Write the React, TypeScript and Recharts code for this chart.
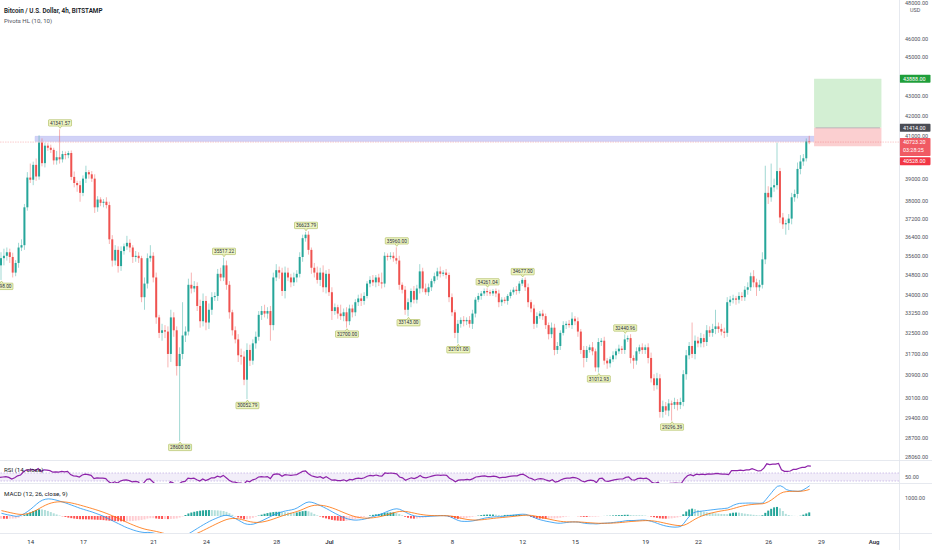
import React from "react";
import {
  ComposedChart,
  Bar,
  Line,
  XAxis,
  YAxis,
  ReferenceLine,
  ReferenceArea,
  ReferenceDot,
  Cell,
} from "recharts";

const FONT = "Roboto, 'Liberation Sans', sans-serif";
const SLOTS = 307; // 4h slots across the plot, incl. empty future space

// ---- candles (4h, BITSTAMP BTCUSD), first candle Jun 12 08:00 ----
const firstOpen = 35200;
const closes = [
  35500, 35600, 35750, 35550, 34900, 35300, 35950, 36050, 37700, 39050,
  38950, 39640, 39100, 40700, 39720, 40550, 40450, 40350, 39850, 40000,
  39900, 40150, 40100, 40200, 39080, 38800, 38700, 38350, 39000, 39300,
  39200, 39000, 37700, 38050, 37900, 37950, 37800, 36300, 35400, 35850,
  35170, 35800, 36000, 36150, 35950, 35550, 35600, 35500, 33900, 34450,
  35500, 35600, 34700, 33100, 32500, 32600, 32550, 31700, 33100, 32600,
  31250, 31700, 32400, 32550, 34400, 34250, 34350, 33550, 32950, 33750,
  32900, 33400, 33900, 33950, 34850, 34700, 35200, 34400, 33300, 32600,
  32250, 31650, 31600, 30750, 31850, 31450, 32100, 32350, 33200, 33350,
  33250, 33350, 32800, 34700, 35000, 34900, 34150, 34900, 34700, 34500,
  34700, 34850, 35550, 36350, 36500, 35850, 35100, 34900, 34600, 34900,
  34300, 34850, 34100, 33350, 33500, 33250, 33150, 33300, 32950, 33450,
  33300, 33700, 33850, 33750, 33950, 34450, 34600, 34500, 34700, 34500,
  34450, 35600, 35550, 35600, 35500, 35400, 34400, 34200, 33400, 33700,
  34150, 33800, 34250, 34950, 34250, 34100, 34300, 34550, 34750, 34950,
  34850, 34900, 34800, 33900, 33300, 32500, 32850, 33000, 32950, 33000,
  32850, 33250, 33800, 33950, 34050, 34150, 34100, 34050, 34150, 34050,
  33700, 33800, 33750, 33950, 34100, 34200, 34150, 34450, 34600, 34300,
  33700, 33450, 32850, 33150, 33250, 33150, 32800, 32450, 32700, 31850,
  32000, 32500, 32800, 32850, 32800, 33050, 32950, 32550, 31850, 31550,
  31850, 31950, 31800, 31200, 32150, 32200, 31450, 31350, 31500, 31650,
  31800, 31900, 31850, 32250, 32300, 31550, 31450, 31800, 31950, 31850,
  31950, 31550, 30800, 30550, 30800, 29600, 29800, 29650, 29900, 29850,
  29950, 29850, 29950, 30950, 31650, 32000, 31700, 32200, 32100, 32300,
  32150, 32600, 32500, 32650, 32750, 32650, 32550, 32500, 33700, 33800,
  33850, 33800, 33950, 33900, 34200, 34300, 34750, 34500, 34300, 34400,
  35450, 38350, 38150, 38600, 38700, 39350, 37250, 36950, 37000, 37200,
  38150, 38300, 39450, 39800, 39950, 40750, 40723.2,
];
// wick length above the body / below the body
const upperWick = [
  250, 300, 200, 150, 180, 120, 200, 250, 150, 250,
  650, 150, 300, 350, 200, 150, 120, 150, 100, 300,
  1342, 150, 120, 100, 120, 250, 100, 200, 150, 300,
  100, 150, 200, 150, 100, 120, 200, 150, 180, 200,
  150, 200, 120, 300, 150, 100, 200, 150, 100, 250,
  200, 450, 150, 200, 100, 250, 200, 200, 300, 200,
  150, 250, 1300, 200, 250, 500, 200, 150, 250, 300,
  200, 250, 200, 150, 200, 250, 317, 200, 150, 100,
  150, 200, 250, 200, 250, 200, 150, 200, 150, 200,
  250, 150, 200, 200, 250, 150, 200, 250, 200, 150,
  200, 150, 200, 150, 124, 150, 100, 200, 250, 200,
  300, 150, 200, 200, 150, 100, 350, 150, 200, 150,
  150, 120, 150, 200, 150, 100, 150, 200, 100, 150,
  400, 150, 100, 150, 150, 460, 200, 100, 150, 150,
  100, 200, 150, 300, 150, 200, 150, 100, 150, 150,
  200, 100, 150, 100, 150, 100, 150, 100, 150, 100,
  150, 150, 100, 120, 100, 100, 111, 100, 80, 100,
  150, 100, 100, 80, 100, 100, 150, 100, 77, 100,
  150, 100, 150, 150, 100, 150, 100, 100, 200, 150,
  150, 100, 150, 100, 150, 250, 100, 150, 100, 150,
  150, 100, 200, 100, 150, 100, 150, 100, 100, 150,
  100, 150, 100, 191, 100, 150, 100, 150, 100, 150,
  100, 150, 200, 150, 200, 150, 200, 150, 150, 100,
  150, 100, 150, 150, 200, 150, 900, 200, 150, 200,
  150, 200, 150, 200, 650, 150, 200, 150, 200, 150,
  150, 100, 150, 150, 150, 200, 150, 250, 150, 200,
  300, 1250, 300, 1100, 300, 1350, 150, 200, 150, 200,
  200, 200, 300, 300, 200, 150, 277,
];
const lowerWick = [
  602, 300, 200, 250, 200, 150, 200, 150, 200, 150,
  150, 250, 200, 150, 150, 200, 150, 150, 200, 200,
  200, 150, 200, 150, 150, 200, 300, 400, 150, 200,
  200, 150, 250, 200, 150, 200, 150, 200, 250, 200,
  270, 200, 150, 150, 200, 250, 200, 200, 200, 500,
  200, 150, 200, 250, 200, 300, 250, 500, 300, 250,
  350, 2650, 200, 250, 150, 200, 150, 200, 250, 200,
  300, 250, 200, 150, 200, 150, 150, 200, 250, 200,
  150, 250, 300, 200, 697, 200, 150, 200, 150, 200,
  150, 200, 600, 200, 150, 250, 200, 300, 150, 200,
  150, 200, 150, 200, 150, 200, 250, 200, 150, 250,
  200, 250, 150, 350, 150, 200, 150, 200, 250, 150,
  200, 150, 150, 200, 150, 100, 150, 150, 200, 150,
  200, 150, 150, 100, 150, 150, 200, 150, 200, 257,
  200, 150, 150, 200, 150, 100, 150, 150, 100, 150,
  150, 100, 150, 200, 150, 200, 399, 150, 200, 150,
  150, 200, 150, 100, 150, 100, 150, 100, 100, 150,
  200, 150, 100, 150, 100, 100, 150, 100, 100, 150,
  200, 150, 200, 150, 100, 150, 150, 200, 150, 200,
  150, 150, 100, 150, 100, 150, 150, 200, 150, 350,
  150, 100, 150, 150, 187, 150, 150, 200, 150, 100,
  150, 100, 150, 150, 100, 200, 300, 150, 100, 150,
  150, 200, 150, 200, 150, 200, 200, 150, 200, 554,
  150, 200, 150, 150, 200, 150, 150, 200, 150, 150,
  200, 150, 150, 150, 200, 150, 150, 200, 150, 150,
  150, 200, 150, 150, 150, 200, 150, 200, 350, 150,
  150, 200, 300, 200, 200, 200, 250, 200, 450, 300,
  250, 200, 200, 250, 200, 150, 100,
];

// ---- RSI (14, close) ----
const rsiValues = [
  49, 50, 51, 49, 45, 48, 53, 55, 63, 68,
  67, 69, 66, 71, 64, 68, 67, 66, 62, 63,
  62, 64, 63, 64, 56, 53, 52, 50, 55, 57,
  56, 54, 46, 48, 47, 47, 46, 38, 34, 38,
  35, 40, 42, 43, 41, 38, 39, 38, 30, 36,
  44, 45, 38, 31, 29, 31, 30, 27, 38, 35,
  30, 33, 38, 39, 47, 46, 47, 43, 40, 45,
  41, 44, 48, 48, 52, 50, 54, 48, 42, 38,
  37, 35, 35, 32, 40, 38, 43, 45, 50, 51,
  50, 51, 46, 56, 58, 57, 52, 56, 55, 54,
  55, 56, 60, 64, 65, 58, 53, 51, 49, 51,
  47, 51, 46, 42, 43, 41, 41, 43, 40, 44,
  43, 46, 47, 46, 48, 52, 54, 53, 55, 53,
  52, 60, 59, 60, 59, 58, 50, 48, 42, 45,
  48, 46, 49, 54, 49, 48, 50, 52, 54, 55,
  54, 55, 54, 47, 43, 38, 42, 43, 43, 44,
  43, 46, 50, 51, 52, 53, 51, 51, 52, 51,
  48, 49, 49, 51, 52, 53, 53, 56, 57, 53,
  48, 46, 42, 45, 46, 45, 42, 40, 43, 37,
  39, 43, 46, 47, 47, 49, 48, 45, 40, 38,
  41, 42, 41, 36, 46, 47, 40, 39, 41, 43,
  44, 45, 45, 49, 50, 43, 42, 46, 47, 46,
  47, 43, 36, 34, 37, 29, 32, 31, 34, 34,
  35, 34, 35, 46, 53, 56, 53, 57, 56, 57,
  56, 58, 57, 58, 59, 58, 57, 57, 56, 66,
  66, 66, 67, 66, 68, 68, 71, 68, 65, 66,
  72, 83, 81, 82, 82, 84, 68, 64, 64, 65,
  69, 69, 72, 74, 74, 78, 77,
];

// ---- MACD (12, 26, close, 9) ----
const macdLine = [
  150, 110, 70, 40, 10, -20, 0, 60, 150, 260,
  380, 520, 660, 790, 880, 930, 950, 940, 910, 870,
  820, 770, 720, 660, 600, 540, 480, 420, 370, 320,
  270, 220, 160, 100, 40, -30, -110, -190, -270, -350,
  -430, -510, -590, -660, -720, -780, -830, -870, -900, -920,
  -910, -920, -950, -1000, -1060, -1110, -1150, -1200, -1230, -1260,
  -1280, -1250, -1200, -1100, -980, -880, -780, -680, -580, -480,
  -390, -300, -220, -150, -80, -20, 30, 40, 0, -70,
  -150, -240, -330, -420, -460, -470, -450, -400, -330, -260,
  -180, -100, -20, 60, 130, 190, 240, 280, 310, 340,
  380, 450, 550, 650, 740, 780, 760, 710, 640, 570,
  490, 410, 320, 230, 140, 60, -20, -90, -150, -190,
  -220, -230, -220, -200, -170, -130, -80, -30, 20, 70,
  130, 200, 270, 330, 380, 400, 370, 300, 210, 130,
  60, 10, -20, -30, -30, -30, -20, -10, 0, 10,
  20, 20, 10, -30, -100, -180, -250, -290, -300, -300,
  -290, -270, -240, -200, -160, -120, -90, -70, -50, -40,
  -40, -30, -10, 10, 30, 50, 70, 90, 100, 90,
  40, -20, -90, -160, -210, -250, -290, -320, -350, -380,
  -400, -400, -380, -360, -340, -330, -330, -340, -370, -400,
  -420, -430, -430, -440, -430, -410, -400, -390, -380, -360,
  -340, -320, -300, -270, -250, -250, -250, -240, -230, -220,
  -230, -260, -300, -350, -410, -470, -520, -560, -590, -610,
  -620, -610, -580, -420, -200, 0, 150, 220, 250, 270,
  290, 310, 330, 350, 370, 390, 400, 420, 440, 520,
  600, 660, 700, 710, 715, 720, 720, 715, 710, 705,
  720, 900, 1100, 1300, 1500, 1650, 1680, 1600, 1470, 1420,
  1390, 1380, 1370, 1390, 1470, 1570, 1680,
];
const signalLine = [
  300, 262, 224, 187, 152, 118, 94, 87, 100, 132,
  182, 250, 332, 424, 515, 598, 668, 722, 760, 782,
  790, 786, 773, 750, 720, 684, 643, 598, 552, 506,
  459, 411, 361, 309, 255, 198, 136, 71, 3, -68,
  -140, -214, -289, -363, -434, -503, -568, -628, -682, -730,
  -766, -797, -828, -862, -902, -944, -985, -1028, -1068, -1106,
  -1141, -1163, -1170, -1156, -1121, -1073, -1014, -947, -874, -795,
  -714, -631, -549, -469, -391, -317, -248, -190, -152, -136,
  -139, -159, -193, -238, -282, -320, -346, -357, -352, -334,
  -303, -262, -214, -159, -101, -43, 14, 67, 116, 161,
  205, 254, 313, 380, 452, 518, 566, 595, 604, 597,
  576, 543, 498, 444, 383, 318, 250, 182, 116, 55,
  0, -46, -81, -105, -118, -120, -112, -96, -73, -44,
  -9, 33, 80, 130, 180, 224, 253, 262, 252, 228,
  194, 157, 122, 92, 68, 48, 34, 25, 20, 18,
  18, 18, 16, 7, -14, -47, -88, -128, -162, -190,
  -210, -222, -226, -221, -209, -191, -171, -151, -131, -113,
  -98, -84, -69, -53, -36, -19, -1, 17, 34, 45,
  44, 31, 7, -26, -63, -100, -138, -174, -209, -243,
  -274, -299, -315, -324, -327, -328, -328, -330, -338, -350,
  -364, -377, -388, -398, -404, -405, -404, -401, -397, -390,
  -380, -368, -354, -337, -320, -306, -295, -284, -273, -262,
  -256, -257, -266, -283, -308, -340, -376, -413, -448, -480,
  -508, -528, -538, -514, -451, -361, -259, -163, -80, -10,
  50, 102, 148, 188, 224, 257, 286, 313, 338, 374,
  419, 467, 514, 553, 585, 612, 634, 650, 662, 671,
  681, 725, 800, 900, 1020, 1146, 1253, 1322, 1352, 1366,
  1371, 1373, 1372, 1376, 1395, 1430, 1480,
];

// ---- axis labels ----
const dayTickIdx = [10, 28, 52, 70, 94, 112, 136, 154, 178, 196, 220, 238, 262, 280, 298];
const dayTickLabels = ["14", "17", "21", "24", "28", "Jul", "5", "8", "12", "15", "19", "22", "26", "29", "Aug"];
const priceTicks = [
  48000, 46000, 45000, 43000, 42000, 41000, 39000, 38000, 37200, 36400, 35600,
  34800, 34000, 33250, 32500, 31700, 30900, 30100, 29400, 28700, 28060,
];

// ---- Pivots HL (10, 10) ----
const pivotIdx = [0, 20, 61, 76, 84, 104, 118, 135, 139, 156, 166, 178, 204, 213, 229];
const pivotPrice = [
  34598, 41341.57, 28600, 35517.22, 30052.79, 36623.79, 32700, 35960, 33143, 32101,
  34261.04, 34677, 31012.93, 32440.96, 29296.39,
];
const pivotKind = ["L", "H", "L", "H", "L", "H", "L", "H", "L", "L", "H", "H", "L", "H", "L"];

// ---- drawings / price scale tags ----
const lastPrice = 40723.2;
const countdown = "03:28:25";
const entryPrice = 41414;
const targetPrice = 43888;
const stopPrice = 40528;
const zoneLow = 40760;
const zoneHigh = 41000;

const rows = Array.from({ length: SLOTS }, (_, i) => {
  const row: any = { idx: i };
  if (i < closes.length) {
    const o = i === 0 ? firstOpen : closes[i - 1];
    const c = closes[i];
    const h = Math.max(o, c) + upperWick[i];
    const l = Math.min(o, c) - lowerWick[i];
    const hist = macdLine[i] - signalLine[i];
    const prev = i > 0 ? macdLine[i - 1] - signalLine[i - 1] : hist;
    row.o = o;
    row.c = c;
    row.h = h;
    row.l = l;
    row.range = [l, h];
    row.rsi = rsiValues[i];
    row.macd = macdLine[i];
    row.signal = signalLine[i];
    row.hist = hist;
    row.histColor =
      hist >= 0 ? (hist >= prev ? "#26a69a" : "#b2dfdb") : hist < prev ? "#ff5252" : "#ffcdd2";
  }
  return row;
});

function Candle(props: any) {
  const { x, width, payload } = props;
  let { y, height } = props;
  if (!payload || payload.h == null || !isFinite(y) || !isFinite(height)) return <g />;
  if (height < 0) {
    y = y + height;
    height = -height;
  }
  const { o, h, l, c } = payload;
  const span = Math.log(h) - Math.log(l);
  const at = (p: number) => y + (span > 0 ? (height * (Math.log(h) - Math.log(p))) / span : 0);
  const color = c >= o ? "#26a69a" : "#ef5350";
  const top = at(Math.max(o, c));
  const bottom = at(Math.min(o, c));
  const cx = x + width / 2;
  return (
    <g>
      <line x1={cx} x2={cx} y1={y} y2={y + height} stroke={color} strokeOpacity={0.55} strokeWidth={0.8} />
      <rect x={x} y={top} width={width} height={Math.max(bottom - top, 0.7)} fill={color} />
    </g>
  );
}

function pivotShape(kind: string, text: string) {
  return (p: any) => {
    const { cx, cy } = p;
    const w = 23;
    const hh = 6.4;
    const by = kind === "H" ? cy - 3.2 - hh : cy + 3.2;
    const base = kind === "H" ? by + hh : by;
    const tip = kind === "H" ? cy - 1 : cy + 1;
    return (
      <g>
        <rect x={cx - w / 2} y={by} width={w} height={hh} fill="#eef5c4" stroke="#9aab3c" strokeWidth={0.5} rx={0.6} />
        <path d={`M${cx - 1.6},${base} L${cx},${tip} L${cx + 1.6},${base}`} fill="#eef5c4" stroke="#9aab3c" strokeWidth={0.5} />
        <text x={cx} y={by + hh / 2 + 1.7} textAnchor="middle" fontSize={4.8} fill="#2a2e39" fontFamily={FONT}>
          {text}
        </text>
      </g>
    );
  };
}

function priceTag(text: string, bg: string, dy = 0, sub?: string) {
  return (p: any) => {
    const vb = p.viewBox || {};
    const x = (vb.x || 0) + (vb.width || 0) + 0.5;
    const y = (vb.y || 0) + dy;
    const hgt = sub ? 18 : 8;
    return (
      <g>
        <rect x={x} y={y - 4} width={31} height={hgt} fill={bg} rx={0.8} />
        <text x={x + 3.5} y={y + 1.9} fontSize={5.4} fill="#ffffff" fontFamily={FONT}>
          {text}
        </text>
        {sub ? (
          <text x={x + 3.5} y={y + 9.9} fontSize={5.4} fill="#ffffff" fontFamily={FONT}>
            {sub}
          </text>
        ) : null}
      </g>
    );
  };
}

const axisTick = (p: any) => (
  <text x={905} y={p.y + 1.9} fontSize={5.5} fill="#50535e" fontFamily={FONT}>
    {Number(p.payload.value).toFixed(2)}
  </text>
);

const dayTick = (p: any) => {
  const k = dayTickIdx.indexOf(Number(p.payload.value));
  if (k < 0) return <g />;
  return (
    <text x={p.x} y={61} textAnchor="middle" fontSize={6} fill="#2a2e39" fontFamily={FONT}
      fontWeight={dayTickLabels[k] === "Jul" || dayTickLabels[k] === "Aug" ? 600 : 400}>
      {dayTickLabels[k]}
    </text>
  );
};

export default function App() {
  const margin = { top: 0, right: 0, bottom: 0, left: 0 };
  return (
    <div style={{ position: "absolute", left: 0, top: 0, width: 932, height: 550, background: "#ffffff", overflow: "hidden", fontFamily: FONT }}>
      {/* price pane */}
      <div style={{ position: "absolute", left: 0, top: 0 }}>
        <ComposedChart width={932} height={460} data={rows} margin={margin}>
          <XAxis dataKey="idx" hide />
          <YAxis
            orientation="right"
            width={33}
            type="number"
            scale="log"
            domain={[27965, 48170]}
            allowDataOverflow
            ticks={priceTicks}
            interval={0}
            tick={axisTick}
            tickLine={false}
            axisLine={false}
          />
          <ReferenceArea x1={12} x2={279} y1={zoneLow} y2={zoneHigh} fill="#cfd0f7" fillOpacity={0.95} stroke="#b9baf0" strokeWidth={0.5} />
          <ReferenceArea x1={278} x2={300} y1={entryPrice} y2={targetPrice} fill="#d3efd3" fillOpacity={1} stroke="none" />
          <ReferenceArea x1={278} x2={300} y1={stopPrice} y2={entryPrice} fill="#fbcfd0" fillOpacity={1} stroke="none" />
          <ReferenceLine segment={[{ x: 278, y: entryPrice }, { x: 300, y: entryPrice }]} stroke="#9598a1" strokeWidth={0.6} />
          <ReferenceLine y={lastPrice} stroke="#f0646d" strokeOpacity={0.55} strokeWidth={0.6} strokeDasharray="1.5 1" />
          <Bar dataKey="range" barSize={2} shape={Candle} isAnimationActive={false} />
          {pivotIdx.map((ix, k) => (
            <ReferenceDot
              key={"pv" + k}
              x={ix}
              y={pivotPrice[k]}
              r={0}
              ifOverflow="visible"
              shape={pivotShape(pivotKind[k], pivotPrice[k].toFixed(2))}
            />
          ))}
          <ReferenceLine y={targetPrice} stroke="none" label={priceTag(targetPrice.toFixed(2), "#1f9e3a")} />
          <ReferenceLine y={entryPrice} stroke="none" label={priceTag(entryPrice.toFixed(2), "#4b4d55")} />
          <ReferenceLine y={lastPrice} stroke="none" label={priceTag(lastPrice.toFixed(2), "#f05a63", 0, countdown)} />
          <ReferenceLine y={stopPrice} stroke="none" label={priceTag(stopPrice.toFixed(2), "#f23645", 15)} />
        </ComposedChart>
      </div>

      {/* RSI pane */}
      <div style={{ position: "absolute", left: 0, top: 460 }}>
        <ComposedChart width={932} height={23} data={rows} margin={margin}>
          <XAxis dataKey="idx" hide />
          <YAxis
            orientation="right"
            width={33}
            type="number"
            domain={[35, 92.5]}
            allowDataOverflow
            ticks={[50]}
            interval={0}
            tick={axisTick}
            tickLine={false}
            axisLine={false}
          />
          <ReferenceArea y1={40} y2={60} fill="#7e57c2" fillOpacity={0.1} stroke="none" />
          <ReferenceLine y={60} stroke="#b39ddb" strokeWidth={0.6} strokeDasharray="1.5 1.5" />
          <ReferenceLine y={40} stroke="#b39ddb" strokeWidth={0.6} strokeDasharray="1.5 1.5" />
          <Line dataKey="rsi" stroke="#8e24aa" strokeWidth={1.2} dot={false} isAnimationActive={false} />
        </ComposedChart>
      </div>

      {/* MACD pane + time axis */}
      <div style={{ position: "absolute", left: 0, top: 483 }}>
        <ComposedChart width={932} height={67} data={rows} margin={margin}>
          <XAxis dataKey="idx" height={17} interval={0} tick={dayTick} tickLine={false} axisLine={false} />
          <YAxis
            orientation="right"
            width={33}
            type="number"
            domain={[-944, 1833]}
            allowDataOverflow
            ticks={[1000]}
            interval={0}
            tick={axisTick}
            tickLine={false}
            axisLine={false}
          />
          <Bar dataKey="hist" barSize={2} isAnimationActive={false}>
            {rows.map((r, i) => (
              <Cell key={"h" + i} fill={r.histColor || "transparent"} />
            ))}
          </Bar>
          <Line dataKey="macd" stroke="#2196f3" strokeWidth={0.8} dot={false} isAnimationActive={false} />
          <Line dataKey="signal" stroke="#ff6d00" strokeWidth={0.8} dot={false} isAnimationActive={false} />
        </ComposedChart>
      </div>

      {/* pane frames and titles */}
      <svg width={932} height={550} style={{ position: "absolute", left: 0, top: 0, pointerEvents: "none" }}>
        <line x1={0} x2={932} y1={460.5} y2={460.5} stroke="#e0e3eb" strokeWidth={0.8} />
        <line x1={0} x2={932} y1={483.5} y2={483.5} stroke="#e0e3eb" strokeWidth={0.8} />
        <line x1={0} x2={932} y1={533.5} y2={533.5} stroke="#e0e3eb" strokeWidth={0.8} />
        <line x1={899.5} x2={899.5} y1={0} y2={550} stroke="#e0e3eb" strokeWidth={0.8} />
        <text x={4} y={12.5} fontSize={6.3} fontWeight={600} fill="#131722" fontFamily={FONT}>
          Bitcoin / U.S. Dollar, 4h, BITSTAMP
        </text>
        <text x={4} y={22.5} fontSize={6.1} fill="#50535e" fontFamily={FONT}>
          Pivots HL (10, 10)
        </text>
        <text x={4} y={472} fontSize={6.2} fill="#131722" fontFamily={FONT}>
          RSI (14, close)
        </text>
        <text x={4} y={495.5} fontSize={6.2} fill="#131722" fontFamily={FONT}>
          MACD (12, 26, close, 9)
        </text>
        <text x={910} y={11.5} fontSize={5.4} fill="#50535e" fontFamily={FONT}>
          USD
        </text>
      </svg>
    </div>
  );
}
